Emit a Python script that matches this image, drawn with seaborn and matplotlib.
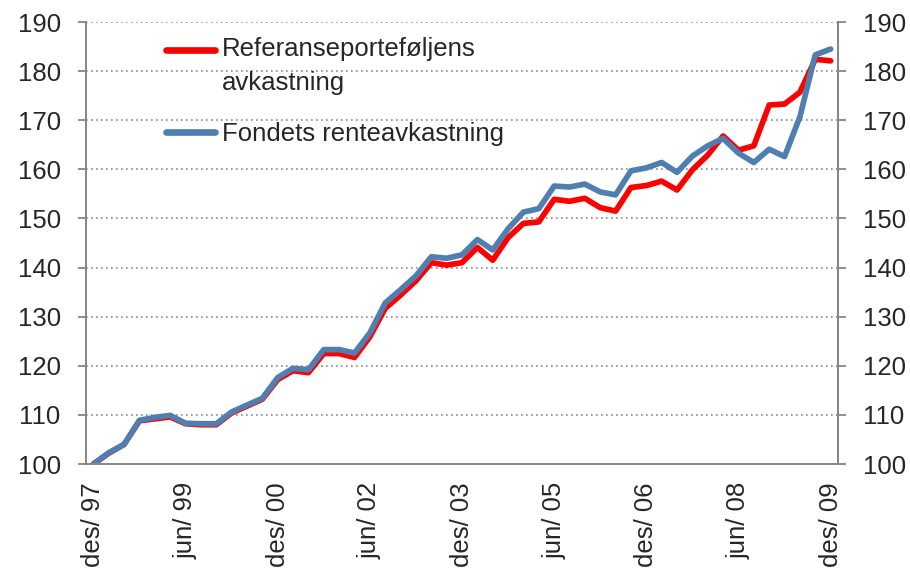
import matplotlib
matplotlib.use("Agg")
import matplotlib.pyplot as plt
import seaborn as sns
import pandas as pd
import numpy as np

# Quarterly index values, des/97 = 100
referanse = [100.0, 102.2, 104.0, 108.8, 109.2, 109.6, 108.2, 108.0, 108.0, 110.4,
             111.8, 113.2, 117.2, 119.0, 118.6, 122.5, 122.5, 121.7, 125.9, 131.7,
             134.4, 137.3, 141.0, 140.5, 141.0, 144.1, 141.5, 146.1, 149.0, 149.3,
             153.9, 153.5, 154.1, 152.2, 151.5, 156.3, 156.7, 157.6, 155.8, 159.9,
             162.9, 166.8, 163.9, 164.8, 173.1, 173.3, 175.7, 182.4, 182.1]

fondet = [100.0, 102.3, 104.0, 108.9, 109.5, 109.9, 108.3, 108.2, 108.2, 110.6,
          112.0, 113.4, 117.6, 119.5, 119.2, 123.3, 123.3, 122.6, 126.7, 132.8,
          135.5, 138.3, 142.2, 141.9, 142.6, 145.7, 143.6, 147.9, 151.3, 152.0,
          156.6, 156.4, 157.0, 155.4, 154.8, 159.7, 160.3, 161.4, 159.4, 162.7,
          164.8, 166.3, 163.3, 161.4, 164.1, 162.6, 170.7, 183.3, 184.5]

tick_labels = ["des/ 97", "jun/ 99", "des/ 00", "jun/ 02", "des/ 03",
               "jun/ 05", "des/ 06", "jun/ 08", "des/ 09"]

series_names = ["Referanseporteføljens\navkastning", "Fondets renteavkastning"]
colors = {series_names[0]: "#ff0000", series_names[1]: "#4f7fb0"}

n = len(referanse)
df = pd.DataFrame({
    "kvartal": list(range(n)) * 2,
    "verdi": referanse + fondet,
    "serie": [series_names[0]] * n + [series_names[1]] * n,
})

sns.set_style("white")
plt.rcParams["font.family"] = ["Liberation Sans", "DejaVu Sans"]

fs = 18.5
grey = "#868686"

fig = plt.figure(figsize=(9.1, 5.75), dpi=100)
ax = fig.add_axes([0.0942, 0.193, 0.827, 0.7687])

sns.lineplot(data=df, x="kvartal", y="verdi", hue="serie", palette=colors,
             linewidth=4.1, ax=ax, solid_joinstyle="round", solid_capstyle="round")

ax.set_xlim(-0.5, n - 0.5)
ax.set_ylim(100, 190)
ax.set_yticks(np.arange(100, 191, 10))
ax.set_xlabel("")
ax.set_ylabel("")

# labels centred on categories, tick marks between categories
label_pos = list(range(0, n, 6))
ax.set_xticks(label_pos)
ax.set_xticklabels(tick_labels, rotation=90, fontsize=fs)
ax.set_xticks([p - 0.5 for p in label_pos], minor=True)
ax.tick_params(axis="x", which="major", length=0, pad=13)
ax.tick_params(axis="x", which="minor", length=6, width=1.3, color=grey, direction="out")
ax.tick_params(axis="y", length=6, width=1.3, color=grey, direction="out", labelsize=fs, pad=12)

ax.yaxis.grid(True, linestyle=(0, (1, 2)), color="#8a8a8a", linewidth=1.2)
ax.set_axisbelow(True)

for side in ["left", "bottom", "right"]:
    ax.spines[side].set_color(grey)
    ax.spines[side].set_linewidth(1.4)
ax.spines["top"].set_visible(False)

ax2 = ax.twinx()
ax2.set_ylim(100, 190)
ax2.set_yticks(np.arange(100, 191, 10))
ax2.tick_params(axis="y", length=6, width=1.3, color=grey, direction="out", labelsize=fs, pad=12)
for side in ["left", "bottom", "top"]:
    ax2.spines[side].set_visible(False)
ax2.spines["right"].set_color(grey)
ax2.spines["right"].set_linewidth(1.4)

leg = ax.legend(loc="upper left", bbox_to_anchor=(0.1067, 0.9653), frameon=False,
                fontsize=fs, handlelength=1.9, handletextpad=0.26,
                labelspacing=1.06, borderpad=0, borderaxespad=0)
for t in leg.get_texts():
    t.set_linespacing(1.52)
# Excel puts the marker level with the first line of a wrapped label
handles = leg.get_lines()
for h in handles:
    h.set_linewidth(4.8)
handles[0].set_ydata(np.asarray(handles[0].get_ydata()) + 12.0)

fig.savefig("out.png", dpi=100)
